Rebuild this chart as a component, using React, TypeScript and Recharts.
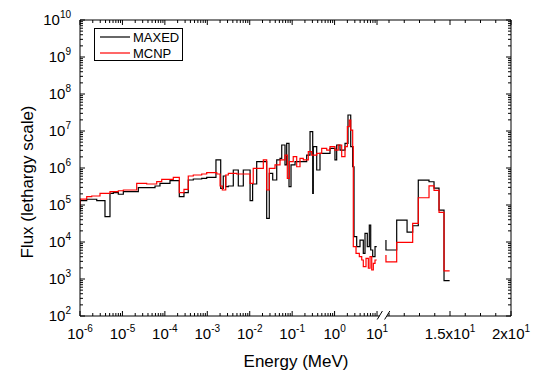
import React from 'react';
import { LineChart, Line, XAxis, YAxis, ReferenceLine, Legend } from 'recharts';

const FONT = '"Liberation Sans", Arial, Helvetica, sans-serif';

// ---------- data (energy in MeV, flux in lethargy units) ----------
// MAXED, logarithmic part of the energy axis (step histogram, left bin edges)
const maxedLowE = [1e-6, 1e-6, 1.44e-6, 2.48e-6, 3.88e-6, 5.09e-6, 6.1e-6, 8.0e-6, 1.05e-5, 2.37e-5, 5.86e-5, 7.67e-5, 1.32e-4, 2.19e-4, 2.82e-4, 3.56e-4, 4.68e-4, 7.38e-4, 9.68e-4, 1.6e-3, 2.07e-3, 2.38e-3, 2.72e-3, 3.13e-3, 4.1e-3, 5.38e-3, 7.06e-3, 1.02e-2, 1.17e-2, 1.46e-2, 2.51e-2, 2.89e-2, 3.48e-2, 4.33e-2, 5.18e-2, 5.68e-2, 6.78e-2, 7.43e-2, 8.43e-2, 9.4e-2, 0.117, 0.22, 0.264, 0.305, 0.315, 0.379, 0.453, 0.78, 1.02, 1.12, 1.34, 1.76, 2.07, 2.4, 2.67, 2.87, 3.32, 3.97, 4.75, 5.21, 5.9, 6.58, 7.1, 7.91, 8.97, 9.84];
const maxedLowF = [6.59e4, 1.31e5, 1.43e5, 1.31e5, 4.83e4, 2.07e5, 2.15e5, 1.95e5, 2.29e5, 2.94e5, 3.26e5, 3.86e5, 4.54e5, 1.68e5, 2.15e5, 4.74e5, 5.04e5, 5.27e5, 5.61e5, 1.65e6, 2.83e5, 6.08e5, 3.12e5, 3.26e5, 8.83e5, 3.26e5, 8.83e5, 1.31e5, 3.7e5, 1.48e6, 4.37e4, 7.19e5, 4.74e5, 1.65e6, 1.83e6, 4.19e6, 1.21e6, 4.65e6, 3.12e5, 1.21e6, 1.48e6, 2.24e6, 9.57e6, 2.07e5, 3.77e6, 8.83e5, 2.5e6, 3.41e6, 1.65e6, 4.19e6, 3.06e6, 4.65e6, 2.71e7, 3.77e6, 1.08e6, 1.39e4, 7.46e3, 1.13e4, 4.95e3, 1.72e4, 7.46e3, 2.88e4, 6.08e3, 4.01e3, 7.46e3, 7.46e3];

// MCNP, logarithmic part
const mcnpLowE = [1e-6, 1e-6, 1.44e-6, 1.89e-6, 2.96e-6, 5.09e-6, 8.0e-6, 1.05e-5, 2.17e-5, 3.73e-5, 6.43e-5, 8.43e-5, 1.58e-4, 2.19e-4, 2.82e-4, 3.56e-4, 4.68e-4, 7.38e-4, 9.68e-4, 1.67e-3, 2.0e-3, 2.26e-3, 2.72e-3, 3.13e-3, 4.93e-3, 1.02e-2, 1.21e-2, 2.09e-2, 2.51e-2, 2.89e-2, 3.94e-2, 5.18e-2, 6.78e-2, 7.69e-2, 8.57e-2, 0.106, 0.128, 0.153, 0.183, 0.24, 0.289, 0.379, 0.497, 0.652, 0.78, 1.02, 1.22, 1.47, 1.76, 2.0, 2.22, 2.4, 2.67, 2.76, 3.2, 3.83, 4.36, 4.75, 5.5, 6.24, 6.84, 7.5, 8.18, 8.97, 9.84];
const mcnpLowF = [8.3e4, 1.45e5, 1.68e5, 1.75e5, 2.07e5, 2.29e5, 2.43e5, 2.54e5, 3.86e5, 3.7e5, 4.26e5, 4.95e5, 5.61e5, 2.15e5, 2.66e5, 6.08e5, 6.47e5, 6.89e5, 7.46e5, 6.89e5, 3.26e5, 2.54e5, 6.47e5, 7.19e5, 6.89e5, 3.86e5, 9.82e5, 1.65e6, 2.54e5, 9.82e5, 1.21e6, 1.65e6, 2.24e6, 5.27e5, 1.48e6, 2.02e6, 1.08e6, 1.83e6, 1.65e6, 2.76e6, 2.24e6, 2.5e6, 3.41e6, 3.06e6, 3.77e6, 3.06e6, 4.19e6, 2.02e6, 3.77e6, 1.31e7, 1.98e7, 1.06e7, 3.77e6, 7.46e3, 4.95e3, 4.01e3, 3.26e3, 2.15e3, 3.63e3, 1.95e3, 4.01e3, 1.75e3, 2.66e3, 3.26e3, 3.26e3];

// linear part of the energy axis (after the break)
const maxedHighE = [9.75, 9.75, 10.63, 11.48, 11.94, 12.4, 13.28, 13.69, 14.1, 14.51, 14.97];
const maxedHighF = [1.13e4, 6.08e3, 3.9e4, 1.86e4, 2.75e4, 4.7e5, 4.25e5, 2.85e5, 7.3e4, 9.0e2, 9.0e2];
const mcnpHighE = [9.75, 9.75, 10.63, 11.94, 12.4, 13.28, 13.69, 14.1, 14.51, 14.97];
const mcnpHighF = [4.45e3, 2.9e3, 9.8e3, 3.2e4, 1.57e5, 3.3e5, 2.5e5, 6.3e4, 1.65e3, 1.65e3];

// tick definitions
const xLogMajorExps = [-6, -5, -4, -3, -2, -1, 0, 1];
const xLinMajors = [15, 20];
const xLinMajorLabels = ['1.5x10', '2x10'];
const xLinMinors = [10, 11.25, 12.5, 13.75, 16.25, 17.5, 18.75];
const yMajorExps = [2, 3, 4, 5, 6, 7, 8, 9, 10];
const minorMults = [2, 3, 4, 5, 6, 7, 8, 9];

// ---------- broken-axis coordinate ----------
const LOG_MIN_EXP = -6;
const LIN_U_AT_15 = 8.72;
const LIN_U_PER_MEV = 0.2875;
const U_MAX = LIN_U_AT_15 + 5 * LIN_U_PER_MEV;
const GAP_LEFT = 7.06;
const GAP_RIGHT = 7.235;
const GAP_MID = 7.153;
const Y_MIN = 1e2;
const Y_MAX = 1e10;

const logU = (e: number) => Math.log10(e) - LOG_MIN_EXP;
const linU = (e: number) => LIN_U_AT_15 + (e - 15) * LIN_U_PER_MEV;

const build = (es: number[], fs: number[], f: (e: number) => number) =>
  es.map((e, i) => ({ u: f(e), flux: fs[i] }));

const maxedLow = build(maxedLowE, maxedLowF, logU);
const mcnpLow = build(mcnpLowE, mcnpLowF, logU);
const maxedHigh = build(maxedHighE, maxedHighF, linU);
const mcnpHigh = build(mcnpHighE, mcnpHighF, linU);

type Major = { u: number; base: string; sup: string };
const xMajors: Major[] = [
  ...xLogMajorExps.map((k) => ({ u: logU(Math.pow(10, k)), base: '10', sup: String(k) })),
  ...xLinMajors.map((e, i) => ({ u: linU(e), base: xLinMajorLabels[i], sup: '1' })),
];
const xMinorTicks: number[] = [];
xLogMajorExps.slice(0, -1).forEach((k) =>
  minorMults.forEach((m) => xMinorTicks.push(logU(m * Math.pow(10, k))))
);
xLinMinors.forEach((e) => xMinorTicks.push(linU(e)));
const xTicks = [...xMajors.map((m) => m.u), ...xMinorTicks].sort((a, b) => a - b);

const yTicks: number[] = [];
yMajorExps.forEach((k, i) => {
  yTicks.push(Math.pow(10, k));
  if (i < yMajorExps.length - 1) minorMults.forEach((m) => yTicks.push(m * Math.pow(10, k)));
});

const findXMajor = (v: number) => xMajors.find((m) => Math.abs(m.u - v) < 1e-6);
const yExp = (v: number) => {
  const l = Math.log10(v);
  return Math.abs(l - Math.round(l)) < 1e-6 ? Math.round(l) : null;
};

// ---------- custom ticks ----------
const MAJ = 5;
const MIN = 3;

const XTickBottom = (props: any) => {
  const { x, y, payload } = props;
  const mj = findXMajor(payload.value);
  const len = mj ? MAJ : MIN;
  return (
    <g>
      <line x1={x} y1={y} x2={x} y2={y - len} stroke="#000" strokeWidth={1} />
      {mj && (
        <text x={x} y={y + 23} textAnchor="middle" fontFamily={FONT} fontSize={15} fill="#000">
          <tspan>{mj.base}</tspan>
          <tspan dy={-7} fontSize={10}>{mj.sup}</tspan>
        </text>
      )}
    </g>
  );
};

const XTickTop = (props: any) => {
  const { x, y, payload } = props;
  const len = findXMajor(payload.value) ? MAJ : MIN;
  return <line x1={x} y1={y} x2={x} y2={y + len} stroke="#000" strokeWidth={1} />;
};

const YTickLeft = (props: any) => {
  const { x, y, payload } = props;
  const k = yExp(payload.value);
  const len = k !== null ? MAJ : MIN;
  return (
    <g>
      <line x1={x} y1={y} x2={x + len} y2={y} stroke="#000" strokeWidth={1} />
      {k !== null && (
        <text x={x - 9} y={y + 5} textAnchor="end" fontFamily={FONT} fontSize={15} fill="#000">
          <tspan>10</tspan>
          <tspan dy={-7} fontSize={10}>{String(k)}</tspan>
        </text>
      )}
    </g>
  );
};

const YTickRight = (props: any) => {
  const { x, y, payload } = props;
  const len = yExp(payload.value) !== null ? MAJ : MIN;
  return <line x1={x} y1={y} x2={x - len} y2={y} stroke="#000" strokeWidth={1} />;
};

const XTitle = () => (
  <text x={296} y={367} textAnchor="middle" fontFamily={FONT} fontSize={17} fill="#000">
    Energy (MeV)
  </text>
);

const YTitle = () => (
  <text
    transform="translate(33,182) rotate(-90)"
    textAnchor="middle"
    fontFamily={FONT}
    fontSize={17}
    fill="#000"
  >
    Flux (lethargy scale)
  </text>
);

const BreakMark = (props: any) => {
  const { x1, y1, y2 } = props;
  const yb = Math.max(y1, y2);
  return (
    <g>
      {[-3.7, 3.7].map((dx) => (
        <line
          key={dx}
          x1={x1 + dx - 2.6}
          y1={yb + 3.5}
          x2={x1 + dx + 2.6}
          y2={yb - 5}
          stroke="#000"
          strokeWidth={1}
        />
      ))}
    </g>
  );
};

const LegendBox = (props: any) => {
  const items = (props.payload || []).filter((p: any) => p.type !== 'none');
  return (
    <div
      style={{
        width: 89,
        height: 33,
        border: '1px solid #000',
        boxSizing: 'border-box',
        background: '#fff',
      }}
    >
      <svg width={87} height={31} style={{ display: 'block' }}>
        {items.map((it: any, i: number) => (
          <g key={it.value}>
            <line x1={5} y1={8 + i * 16} x2={35} y2={8 + i * 16} stroke={it.color} strokeWidth={1.2} />
            <text x={38} y={12.7 + i * 16} fontFamily={FONT} fontSize={13} fill="#000">
              {it.value}
            </text>
          </g>
        ))}
      </svg>
    </div>
  );
};

export default function App() {
  return (
    <div style={{ position: 'absolute', left: 0, top: 0, background: '#fff' }}>
      <LineChart width={541} height={371} margin={{ top: 19, right: 29, bottom: 0, left: 0 }}>
        <XAxis
          xAxisId="b"
          type="number"
          dataKey="u"
          domain={[0, U_MAX]}
          allowDataOverflow
          ticks={xTicks}
          interval={0}
          tick={(p: any) => <XTickBottom {...p} />}
          tickLine={false}
          tickSize={0}
          tickMargin={0}
          axisLine={false}
          height={55}
          label={<XTitle />}
        />
        <XAxis
          xAxisId="t"
          orientation="top"
          type="number"
          dataKey="u"
          domain={[0, U_MAX]}
          allowDataOverflow
          ticks={xTicks}
          interval={0}
          tick={(p: any) => <XTickTop {...p} />}
          tickLine={false}
          tickSize={0}
          tickMargin={0}
          axisLine={{ stroke: '#000', strokeWidth: 1 }}
          height={1}
        />
        <YAxis
          yAxisId="l"
          type="number"
          scale="log"
          domain={[Y_MIN, Y_MAX]}
          allowDataOverflow
          ticks={yTicks}
          interval={0}
          tick={(p: any) => <YTickLeft {...p} />}
          tickLine={false}
          tickSize={0}
          tickMargin={0}
          axisLine={{ stroke: '#000', strokeWidth: 1 }}
          width={80}
          label={<YTitle />}
        />
        <YAxis
          yAxisId="r"
          orientation="right"
          type="number"
          scale="log"
          domain={[Y_MIN, Y_MAX]}
          allowDataOverflow
          ticks={yTicks}
          interval={0}
          tick={(p: any) => <YTickRight {...p} />}
          tickLine={false}
          tickSize={0}
          tickMargin={0}
          axisLine={{ stroke: '#000', strokeWidth: 1 }}
          width={1}
        />
        <ReferenceLine
          xAxisId="b"
          yAxisId="l"
          segment={[{ x: 0, y: Y_MIN }, { x: GAP_LEFT, y: Y_MIN }]}
          stroke="#000"
          strokeWidth={1}
          ifOverflow="visible"
        />
        <ReferenceLine
          xAxisId="b"
          yAxisId="l"
          segment={[{ x: GAP_RIGHT, y: Y_MIN }, { x: U_MAX, y: Y_MIN }]}
          stroke="#000"
          strokeWidth={1}
          ifOverflow="visible"
        />
        <ReferenceLine xAxisId="b" yAxisId="l" x={GAP_MID} shape={(p: any) => <BreakMark {...p} />} ifOverflow="visible" />
        <Line
          xAxisId="b"
          yAxisId="l"
          data={maxedLow}
          dataKey="flux"
          name="MAXED"
          type="stepAfter"
          stroke="#000000"
          strokeWidth={1.2}
          dot={false}
          activeDot={false}
          isAnimationActive={false}
        />
        <Line
          xAxisId="t"
          yAxisId="r"
          data={mcnpLow}
          dataKey="flux"
          name="MCNP"
          type="stepAfter"
          stroke="#ff0000"
          strokeWidth={1.2}
          dot={false}
          activeDot={false}
          isAnimationActive={false}
        />
        <Line
          xAxisId="b"
          yAxisId="l"
          data={maxedHigh}
          dataKey="flux"
          name="MAXED high"
          legendType="none"
          type="stepAfter"
          stroke="#000000"
          strokeWidth={1.2}
          dot={false}
          activeDot={false}
          isAnimationActive={false}
        />
        <Line
          xAxisId="t"
          yAxisId="r"
          data={mcnpHigh}
          dataKey="flux"
          name="MCNP high"
          legendType="none"
          type="stepAfter"
          stroke="#ff0000"
          strokeWidth={1.2}
          dot={false}
          activeDot={false}
          isAnimationActive={false}
        />
        <Legend
          layout="vertical"
          align="center"
          verticalAlign="middle"
          content={(p: any) => <LegendBox {...p} />}
          wrapperStyle={{ position: 'absolute', left: 94, top: 28, width: 89, height: 33 }}
        />
      </LineChart>
    </div>
  );
}
